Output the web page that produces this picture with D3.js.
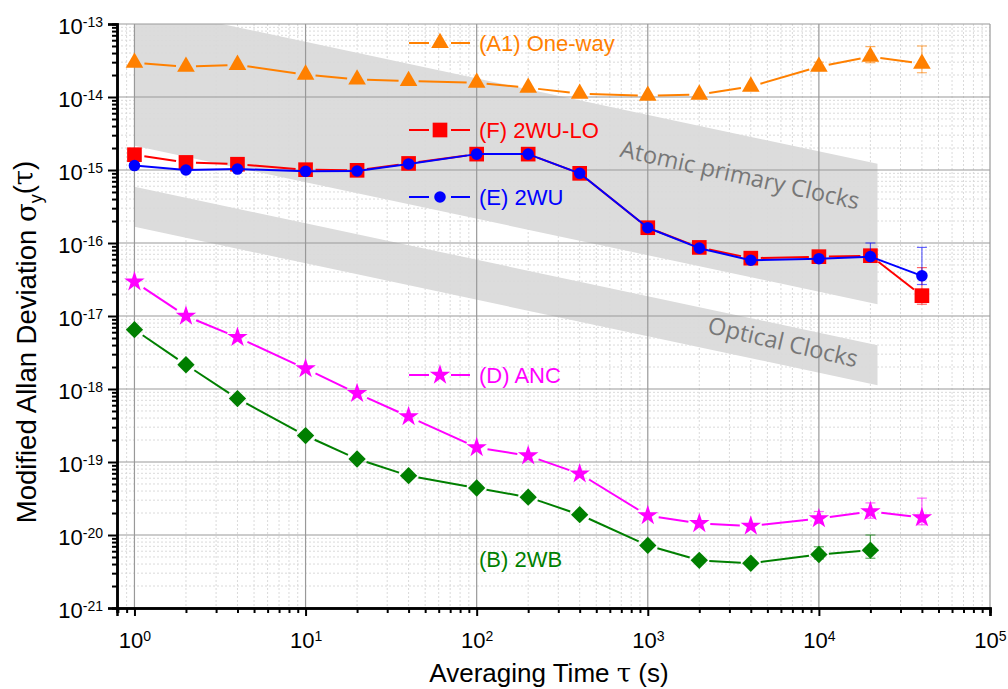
<!DOCTYPE html>
<html lang="en">
<head>
<meta charset="UTF-8">
<title>Modified Allan Deviation</title>
<script src="https://cdn.jsdelivr.net/npm/d3@7"></script>
<style>
  body { margin: 0; background: #fff; }
  text { font-family: "Liberation Sans", Arial, sans-serif; }
</style>
</head>
<body>
<div id="chart"></div>
<script>
// averaging times (s)
var tau = [1, 2, 4, 10, 20, 40, 100, 200, 400, 1000, 2000, 4000, 10000, 20000, 40000];

// series values
var oneWay = [2.95e-14, 2.6e-14, 2.76e-14, 2.03e-14, 1.74e-14, 1.66e-14, 1.57e-14, 1.34e-14, 1.11e-14, 1.04e-14, 1.08e-14, 1.39e-14, 2.6e-14, 3.57e-14, 2.86e-14];
var wuLO   = [1.62e-15, 1.27e-15, 1.2e-15, 1.01e-15, 0.99e-15, 1.23e-15, 1.65e-15, 1.65e-15, 0.9e-15, 1.62e-16, 8.7e-17, 6.2e-17, 6.5e-17, 6.7e-17, 1.9e-17];
var wu     = [1.15e-15, 1.0e-15, 1.03e-15, 0.96e-15, 0.97e-15, 1.21e-15, 1.65e-15, 1.65e-15, 0.9e-15, 1.62e-16, 8.5e-17, 5.8e-17, 6.1e-17, 6.5e-17, 3.55e-17];
var anc    = [2.95e-17, 1.0e-17, 5.1e-18, 1.9e-18, 8.7e-19, 4.2e-19, 1.58e-19, 1.22e-19, 6.9e-20, 1.85e-20, 1.44e-20, 1.33e-20, 1.68e-20, 2.1e-20, 1.73e-20];
var wb     = [6.5e-18, 2.15e-18, 7.4e-19, 2.3e-19, 1.1e-19, 6.5e-20, 4.4e-20, 3.3e-20, 1.9e-20, 7.2e-21, 4.5e-21, 4.1e-21, 5.4e-21, 6.2e-21];

// error bars [tau, low, high]
var oneWayErr = [[10000, 2.3e-14, 3.0e-14], [20000, 2.95e-14, 4.9e-14], [40000, 2.15e-14, 5.0e-14]];
var wuLOErr   = [[40000, 1.45e-17, 4.6e-17]];
var wuErr     = [[20000, 6.5e-17, 1.0e-16], [40000, 2.7e-17, 8.7e-17]];
var ancErr    = [[10000, 1.45e-20, 2.1e-20], [20000, 1.7e-20, 2.75e-20], [40000, 1.38e-20, 3.2e-20]];
var wbErr     = [[10000, 4.7e-21, 6.9e-21], [20000, 4.8e-21, 1.0e-20]];

// reference bands, sigma(tau) = c / sqrt(tau) up to tauEnd
var atomicBand  = {hi: 1.8e-13, lo: 2.15e-15, tauEnd: 2.2e4};
var opticalBand = {hi: 5.9e-16, lo: 1.67e-16, tauEnd: 2.2e4};

var yTicks = [-21, -20, -19, -18, -17, -16, -15, -14, -13];
var xTicks = [0, 1, 2, 3, 4, 5];

var width = 1008, height = 689;
var svg = d3.select("#chart").append("svg")
    .attr("width", width)
    .attr("height", height);

var x = d3.scaleLog().domain([Math.pow(10, -0.102), 1e5]).range([117, 990]);
var y = d3.scaleLog().domain([1e-21, 1e-13]).range([608, 24]);

// clip for the plot area
svg.append("clipPath").attr("id", "plotclip")
  .append("rect").attr("x", 117).attr("y", 24).attr("width", 873).attr("height", 584);

// gray bands
function bandPoly(b) {
    var t0 = 1, t1 = b.tauEnd;
    return [
        [x(t0), y(b.hi / Math.sqrt(t0))],
        [x(t1), y(b.hi / Math.sqrt(t1))],
        [x(t1), y(b.lo / Math.sqrt(t1))],
        [x(t0), y(b.lo / Math.sqrt(t0))]
    ];
}
var bandG = svg.append("g").attr("clip-path", "url(#plotclip)");
[atomicBand, opticalBand].forEach(function(b) {
    bandG.append("polygon")
        .attr("points", bandPoly(b).map(function(p){ return p.join(","); }).join(" "))
        .attr("fill", "#dcdcdc");
});

// grid: minor dotted, major solid
var minorX = [], minorY = [];
[0.8, 0.9].forEach(function(v){ minorX.push(v); });
for (var d = 0; d < 5; d++) for (var k = 2; k <= 9; k++) minorX.push(k * Math.pow(10, d));
for (var e = -21; e < -13; e++) for (var k2 = 2; k2 <= 9; k2++) minorY.push(k2 * Math.pow(10, e));

var grid = svg.append("g");
grid.selectAll(".mx").data(minorX).enter().append("line")
    .attr("x1", function(d){ return x(d); }).attr("x2", function(d){ return x(d); })
    .attr("y1", 24).attr("y2", 608)
    .attr("stroke", "#dadada").attr("stroke-width", 1).attr("stroke-dasharray", "2,2");
grid.selectAll(".my").data(minorY).enter().append("line")
    .attr("y1", function(d){ return y(d); }).attr("y2", function(d){ return y(d); })
    .attr("x1", 117).attr("x2", 990)
    .attr("stroke", "#dadada").attr("stroke-width", 1).attr("stroke-dasharray", "2,2");
grid.selectAll(".Mx").data(xTicks).enter().append("line")
    .attr("x1", function(d){ return x(Math.pow(10, d)); }).attr("x2", function(d){ return x(Math.pow(10, d)); })
    .attr("y1", 24).attr("y2", 608)
    .attr("stroke", "#999").attr("stroke-width", 1.2);
grid.selectAll(".My").data(yTicks).enter().append("line")
    .attr("y1", function(d){ return y(Math.pow(10, d)); }).attr("y2", function(d){ return y(Math.pow(10, d)); })
    .attr("x1", 117).attr("x2", 990)
    .attr("stroke", "#999").attr("stroke-width", 1.2);

// band labels
svg.append("text")
    .attr("transform", "translate(740,175) rotate(12.5)")
    .attr("text-anchor", "middle").attr("dy", "0.35em")
    .style("font-family", "'Open Sans', sans-serif")
    .attr("font-size", 23.5).attr("fill", "#777")
    .text("Atomic primary Clocks");
svg.append("text")
    .attr("transform", "translate(783,342) rotate(13)")
    .attr("text-anchor", "middle").attr("dy", "0.35em")
    .style("font-family", "'Open Sans', sans-serif")
    .attr("font-size", 23.5).attr("fill", "#777")
    .text("Optical Clocks");

// series definitions
var series = [
    {vals: oneWay, err: oneWayErr, color: "#ff8000", sym: d3.symbolTriangle, size: 135, gap: 10, rot: 0},
    {vals: wuLO, err: wuLOErr, color: "#ff0000", sym: d3.symbolSquare, size: 215, gap: 10, rot: 0},
    {vals: wu, err: wuErr, color: "#0000ff", sym: d3.symbolCircle, size: 105, gap: 0, rot: 0},
    {vals: anc, err: ancErr, color: "#ff00ff", sym: d3.symbolStar, size: 130, gap: 11, rot: 0},
    {vals: wb, err: wbErr, color: "#007f00", sym: d3.symbolSquare, size: 150, gap: 10, rot: 45}
];

series.forEach(function(s) {
    var pts = s.vals.map(function(v, i){ return [x(tau[i]), y(v)]; });
    var g = svg.append("g");

    // error bars
    s.err.forEach(function(eb) {
        var ex = x(eb[0]);
        g.append("line").attr("x1", ex).attr("x2", ex).attr("y1", y(eb[1])).attr("y2", y(eb[2]))
            .attr("stroke", s.color).attr("stroke-opacity", 0.6).attr("stroke-width", 1.2);
        [eb[1], eb[2]].forEach(function(v) {
            g.append("line").attr("x1", ex - 5).attr("x2", ex + 5).attr("y1", y(v)).attr("y2", y(v))
                .attr("stroke", s.color).attr("stroke-opacity", 0.6).attr("stroke-width", 1.2);
        });
    });

    // line segments with gaps around the symbols
    for (var i = 0; i < pts.length - 1; i++) {
        var p = pts[i], q = pts[i + 1];
        var dx = q[0] - p[0], dy = q[1] - p[1];
        var len = Math.sqrt(dx * dx + dy * dy);
        if (len <= 2 * s.gap) continue;
        var ux = dx / len, uy = dy / len;
        g.append("line")
            .attr("x1", p[0] + ux * s.gap).attr("y1", p[1] + uy * s.gap)
            .attr("x2", q[0] - ux * s.gap).attr("y2", q[1] - uy * s.gap)
            .attr("stroke", s.color).attr("stroke-width", 2);
    }

    g.selectAll("path").data(pts).enter().append("path")
        .attr("d", d3.symbol().type(s.sym).size(s.size))
        .attr("transform", function(d){ return "translate(" + d[0] + "," + d[1] + ") rotate(" + s.rot + ")"; })
        .attr("fill", s.color);
});

// legend entries placed inside the plot
var legend = [
    {label: "(A1) One-way", color: "#ff8000", sym: d3.symbolTriangle, size: 135, yy: 43},
    {label: "(F) 2WU-LO", color: "#ff0000", sym: d3.symbolSquare, size: 215, yy: 130},
    {label: "(E) 2WU", color: "#0000ff", sym: d3.symbolCircle, size: 105, yy: 197},
    {label: "(D) ANC", color: "#ff00ff", sym: d3.symbolStar, size: 130, yy: 375}
];
legend.forEach(function(l) {
    var lg = svg.append("g");
    lg.append("line").attr("x1", 409).attr("x2", 429).attr("y1", l.yy).attr("y2", l.yy)
        .attr("stroke", l.color).attr("stroke-width", 2);
    lg.append("line").attr("x1", 451).attr("x2", 470).attr("y1", l.yy).attr("y2", l.yy)
        .attr("stroke", l.color).attr("stroke-width", 2);
    lg.append("path").attr("d", d3.symbol().type(l.sym).size(l.size))
        .attr("transform", "translate(440," + l.yy + ")").attr("fill", l.color);
    lg.append("text").attr("x", 479).attr("y", l.yy).attr("dy", "0.36em")
        .attr("font-size", 22).attr("fill", l.color).text(l.label);
});
svg.append("text").attr("x", 479).attr("y", 559).attr("dy", "0.36em")
    .attr("font-size", 22).attr("fill", "#007f00").text("(B) 2WB");

// axes
var xMajor = xTicks.map(function(d){ return Math.pow(10, d); });
var yMajor = yTicks.map(function(d){ return Math.pow(10, d); });

var xAxisMinor = d3.axisBottom(x).tickValues(minorX).tickSize(5).tickFormat("");
var xAxis = d3.axisBottom(x).tickValues(xMajor).tickSize(8).tickPadding(16).tickFormat("");
var yAxisMinor = d3.axisLeft(y).tickValues(minorY).tickSize(5).tickFormat("");
var yAxis = d3.axisLeft(y).tickValues(yMajor).tickSize(9).tickPadding(5).tickFormat("");

function styleAxis(g) {
    g.select(".domain").attr("stroke", "#000").attr("stroke-width", 2.5);
    g.selectAll(".tick line").attr("stroke", "#000").attr("stroke-width", 2);
}

svg.append("g").attr("transform", "translate(0,608)").call(xAxisMinor).call(styleAxis);
var gx = svg.append("g").attr("transform", "translate(0,608)").call(xAxis).call(styleAxis);
svg.append("g").attr("transform", "translate(117,0)").call(yAxisMinor).call(styleAxis);
var gy = svg.append("g").attr("transform", "translate(117,0)").call(yAxis).call(styleAxis);

// power-of-ten labels with superscripts
function powLabel(sel, exps) {
    sel.selectAll(".tick text").each(function(d, i) {
        var t = d3.select(this);
        t.text(null)
            .attr("font-size", 22).attr("fill", "#000")
            .style("font-family", "'Liberation Sans', Arial, sans-serif");
        t.append("tspan").text("10");
        t.append("tspan").attr("dy", "-0.5em").attr("font-size", 14).text(exps[i]);
    });
}
powLabel(gx, xTicks);
gx.selectAll(".tick text").attr("dy", "0.71em");
powLabel(gy, yTicks);
gy.selectAll(".tick text").attr("dy", "0.42em");

// axis titles
var xt = svg.append("text").attr("x", 549).attr("y", 682)
    .attr("text-anchor", "middle").attr("font-size", 26).attr("fill", "#000");
xt.append("tspan").text("Averaging Time ");
xt.append("tspan").style("font-family", "'DejaVu Serif', serif").text("τ");
xt.append("tspan").text(" (s)");

var yt = svg.append("text").attr("transform", "translate(36,342) rotate(-90)")
    .attr("text-anchor", "middle").attr("font-size", 27.5).attr("fill", "#000");
yt.append("tspan").text("Modified Allan Deviation ");
yt.append("tspan").style("font-family", "'DejaVu Serif', serif").text("σ");
yt.append("tspan").attr("font-size", 18).attr("dy", "0.35em").text("y");
yt.append("tspan").attr("dy", "-0.35em").text("(");
yt.append("tspan").style("font-family", "'DejaVu Serif', serif").text("τ");
yt.append("tspan").text(")");
</script>
</body>
</html>
